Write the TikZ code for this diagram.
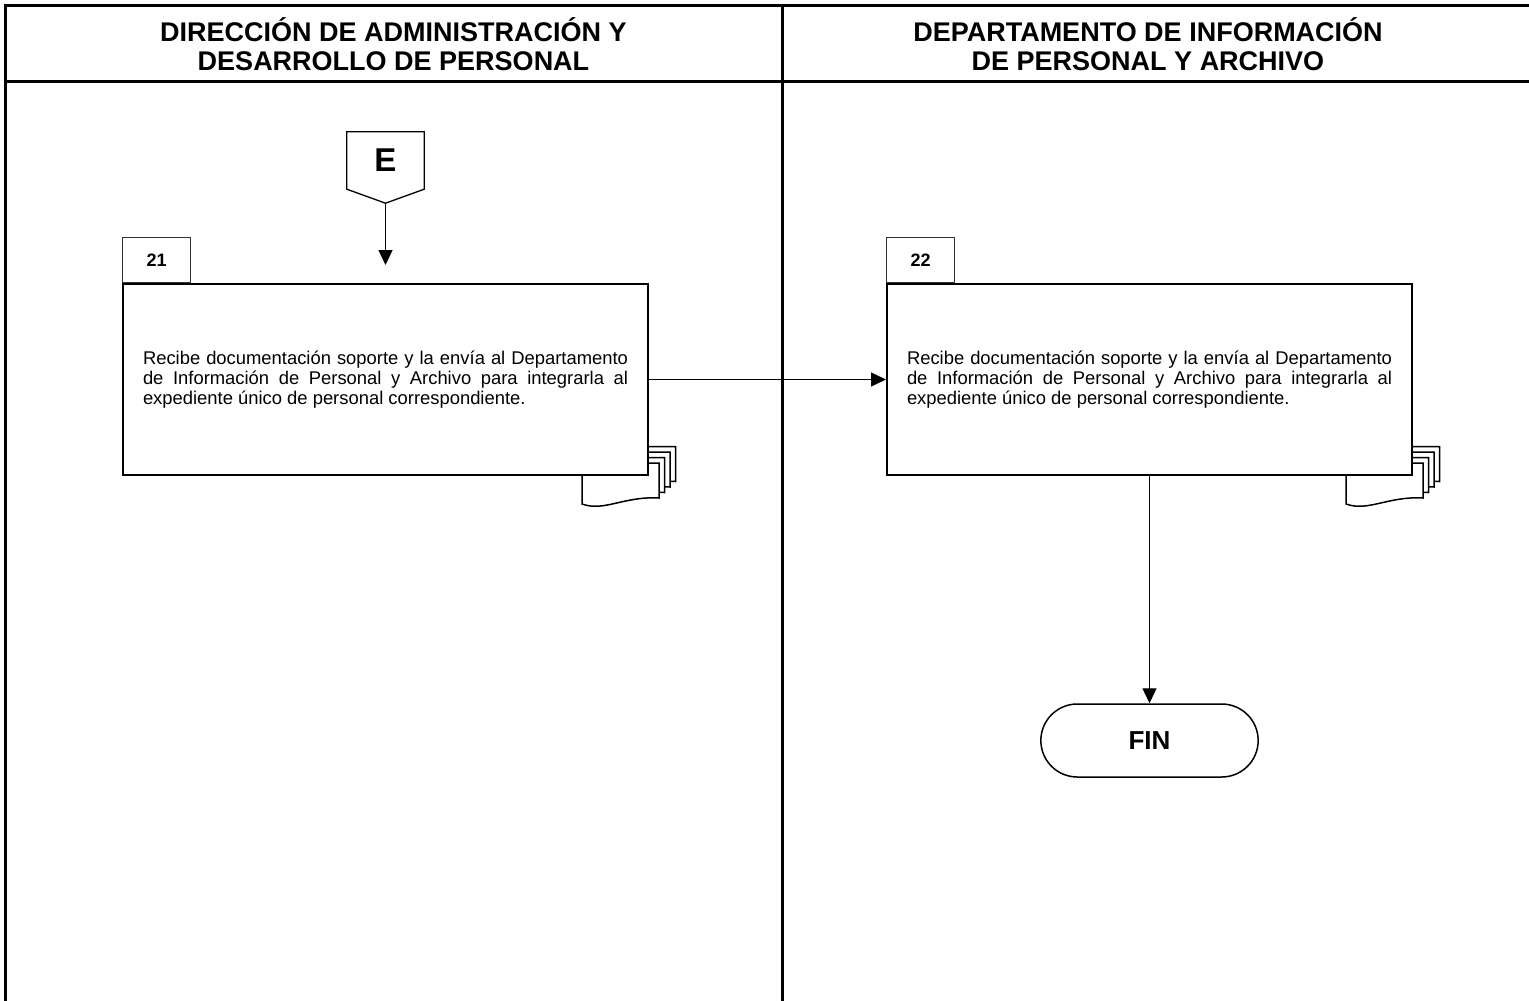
\documentclass[tikz,border=0pt]{standalone}
\usepackage{fontspec}
\setmainfont{Liberation Sans}
\usetikzlibrary{arrows.meta,shapes.misc,backgrounds}
\newcommand\docstack[1]{%
  \begin{scope}[on background layer, shift={(#1.south east)}]
    \foreach \k in {3,2,1,0}{
      \pgfmathsetmacro\d{5.5*\k}
      \draw[line width=1.5pt, fill=white] (-67+\d,-13-\d) -- (10+\d,-13-\d) -- (10+\d,22-\d)
        .. controls (-25+\d,20-\d) and (-45+\d,36-\d) .. (-67+\d,28-\d) -- cycle;
    }
  \end{scope}}
\begin{document}
\begin{tikzpicture}[x=1pt,y=-1pt,
  lane/.style={line width=3pt},
  hdr/.style={font=\fontsize{27}{29}\selectfont\bfseries, align=center},
  proc/.style={draw, line width=2pt, fill=white, minimum width=525pt, minimum height=191pt,
    text width=485pt, align=justify, inner sep=0pt, font=\fontsize{18.4}{20}\selectfont},
  tab/.style={draw=black!80, line width=1.2pt, minimum width=68pt, minimum height=45pt,
    inner sep=0pt, font=\fontsize{18}{20}\selectfont\bfseries, anchor=south west},
  arr/.style={line width=1.3pt, -{Triangle[length=15pt,width=14pt]}},
  term/.style={draw, rounded rectangle, line width=1.5pt, minimum width=224pt,
    minimum height=73pt, font=\fontsize{26}{28}\selectfont\bfseries},
  conn/.style={minimum width=77pt, minimum height=57pt, inner sep=0pt,
    font=\fontsize{33}{33}\selectfont\bfseries}]
\useasboundingbox (0,0) rectangle (1529,1001);
% lanes
\draw[lane] (5,1001) -- (5,5) -- (1529,5);
\draw[lane] (5,81) -- (1529,81);
\draw[lane] (782,5) -- (782,1001);
\node[hdr] (h1) at (393.5,44) {DIRECCIÓN DE ADMINISTRACIÓN Y\\DESARROLLO DE PERSONAL};
\node[hdr] (h2) at (1148,44) {DEPARTAMENTO DE INFORMACIÓN\\DE PERSONAL Y ARCHIVO};
% process boxes
\node[proc] (b21) at (385.5,379.5) {Recibe documentación soporte y la envía al Departamento\linebreak de Información de Personal y Archivo para integrarla al\linebreak expediente único de personal correspondiente.};
\node[tab] (t21) at (b21.north west) {21};
\node[proc] (b22) at (1149.5,379.5) {Recibe documentación soporte y la envía al Departamento\linebreak de Información de Personal y Archivo para integrarla al\linebreak expediente único de personal correspondiente.};
\node[tab] (t22) at (b22.north west) {22};
\docstack{b21}
\docstack{b22}
% connector E
\node[conn] (E) at (385.5,160.5) {E};
\coordinate (Etip) at ([yshift=-14pt]E.south);
\draw[line width=1.3pt] (E.north west) -- (E.north east) -- (E.south east) -- (Etip) -- (E.south west) -- cycle;
\draw[arr, shorten >=18pt] (Etip) -- (Etip |- b21.north);
% terminal
\node[term] (fin) at (1149.5,740.5) {FIN};
% flows
\draw[arr] (b21.east) -- (b22.west);
\draw[arr] (b22.south) -- (fin.north);
\end{tikzpicture}
\end{document}
